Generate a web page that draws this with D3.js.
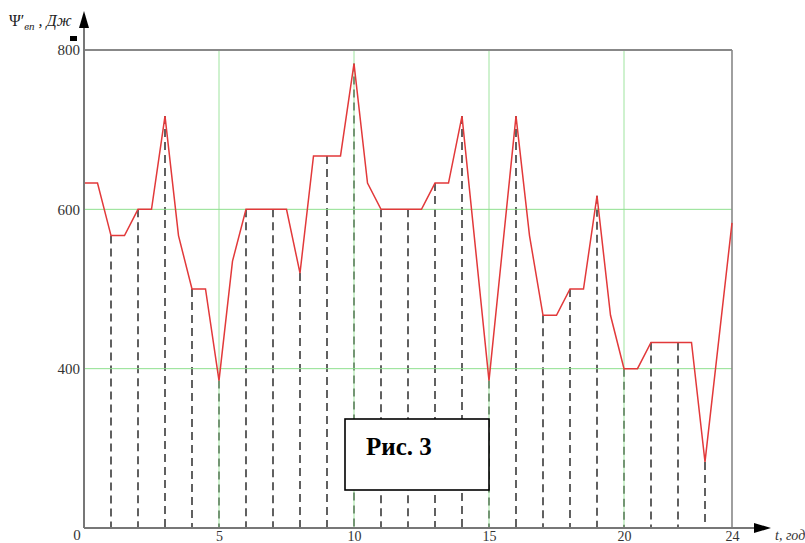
<!DOCTYPE html>
<html>
<head>
<meta charset="utf-8">
<script src="https://cdn.jsdelivr.net/npm/d3@7"></script>
<style>
  html, body { margin: 0; padding: 0; background: #fff; }
  svg { display: block; }
  text { font-family: "Liberation Serif", "DejaVu Serif", serif; }
</style>
</head>
<body>
<svg id="chart" width="805" height="543"></svg>
<script>
// ---- data ----
const times  = [0,0.5,1,1.5,2,2.5,3,3.5,4,4.5,5,5.5,6,7,7.5,8,8.5,9,9.5,10,10.5,11,12,12.5,13,13.5,14,15,16,16.5,17,17.5,18,18.5,19,19.5,20,20.5,21,22,22.5,23,24];
const values = [633,633,567,567,600,600,717,567,500,500,385,535,600,600,600,520,667,667,667,783,633,600,600,600,633,633,717,385,717,567,467,467,500,500,617,467,400,400,433,433,433,283,583];
const xTicks = [5,10,15,20,24];
const yTicks = [400,600,800];
const xGrid  = [5,10,15,20];
const yGrid  = [400,600];
const caption = "Рис. 3";

const points = times.map((t,i) => ({t, v: values[i]}));

const svg = d3.select("#chart");
const x = d3.scaleLinear().domain([0,24]).range([84,732]);
const y = d3.scaleLinear().domain([200,800]).range([528,50]);

// dashed drop lines at whole hours
svg.append("g").selectAll("line")
  .data(points.filter(d => Number.isInteger(d.t) && d.t > 0 && d.t < 24))
  .join("line")
  .attr("x1", d => x(d.t)).attr("x2", d => x(d.t))
  .attr("y1", d => y(d.v)).attr("y2", y(200))
  .attr("stroke", "#3a3a3a").attr("stroke-width", 1.6)
  .attr("stroke-dasharray", "8,5");

// green grid
svg.append("g").selectAll("line").data(xGrid).join("line")
  .attr("x1", d => x(d)).attr("x2", d => x(d))
  .attr("y1", y(800)).attr("y2", y(200))
  .attr("stroke", "#8fe08f").attr("stroke-width", 1).attr("opacity", 0.85);
svg.append("g").selectAll("line").data(yGrid).join("line")
  .attr("x1", x(0)).attr("x2", x(24))
  .attr("y1", d => y(d)).attr("y2", d => y(d))
  .attr("stroke", "#8fe08f").attr("stroke-width", 1);

// frame: top and right
svg.append("line").attr("x1", x(0)).attr("x2", x(24)).attr("y1", y(800)).attr("y2", y(800))
  .attr("stroke", "#888").attr("stroke-width", 2);
svg.append("line").attr("x1", x(24)).attr("x2", x(24)).attr("y1", y(800)).attr("y2", y(200))
  .attr("stroke", "#888").attr("stroke-width", 1.6);

// red line
svg.append("path").datum(points)
  .attr("fill", "none").attr("stroke", "#e2393a").attr("stroke-width", 1.5)
  .attr("stroke-linejoin", "miter")
  .attr("d", d3.line().x(d => x(d.t)).y(d => y(d.v)));

// axes
const yAxis = svg.append("g").attr("transform", `translate(${x(0)},0)`)
  .call(d3.axisLeft(y).tickValues(yTicks).tickSize(0).tickPadding(4).tickFormat(d3.format("d")));
yAxis.select(".domain").remove();
yAxis.selectAll("text").attr("font-size", 15).attr("fill", "#333")
  .attr("font-family", "Liberation Serif, serif");

const xAxis = svg.append("g").attr("transform", `translate(0,${y(200)})`)
  .call(d3.axisBottom(x).tickValues(xTicks).tickSize(0).tickFormat(d3.format("d")));
xAxis.select(".domain").remove();
xAxis.selectAll("text").attr("font-size", 14).attr("fill", "#333")
  .attr("y", 13).attr("dy", 0)
  .attr("font-family", "Liberation Serif, serif");

// axis lines with arrows
svg.append("line").attr("x1", x(0)).attr("x2", x(0)).attr("y1", y(200)).attr("y2", 22)
  .attr("stroke", "#777").attr("stroke-width", 2);
svg.append("line").attr("x1", x(0)).attr("x2", 760).attr("y1", y(200)).attr("y2", y(200))
  .attr("stroke", "#777").attr("stroke-width", 2);
svg.append("path").attr("d", `M${x(0)},11 L${x(0)-5},28 L${x(0)+5},28 Z`).attr("fill", "#000");
svg.append("path").attr("d", `M771,${y(200)} L754,${y(200)-5} L754,${y(200)+5} Z`).attr("fill", "#000");

// origin label
svg.append("text").attr("x", 77).attr("y", 540).attr("text-anchor", "middle")
  .attr("font-size", 15).attr("fill", "#333").text("0");

// small mark
svg.append("rect").attr("x", 70).attr("y", 36).attr("width", 7).attr("height", 5).attr("fill", "#000");

// axis titles
const yt = svg.append("text").attr("x", 9).attr("y", 26).attr("font-size", 16).attr("fill", "#222");
yt.append("tspan").text("Ψ′");
yt.append("tspan").attr("font-size", 11).attr("font-style", "italic").attr("dy", 4).text("вп");
yt.append("tspan").attr("dy", -4).attr("font-style", "italic").text(" , Дж");

svg.append("text").attr("x", 775).attr("y", 540).attr("font-size", 14)
  .attr("font-style", "italic").attr("fill", "#333").text("t, год");

// caption box
svg.append("rect").attr("x", 345).attr("y", 419).attr("width", 144).attr("height", 71)
  .attr("fill", "#fff").attr("stroke", "#000").attr("stroke-width", 1.6);
svg.append("text").attr("x", 366).attr("y", 455).attr("font-size", 25)
  .attr("font-weight", "bold").attr("fill", "#000").text(caption);
</script>
</body>
</html>
